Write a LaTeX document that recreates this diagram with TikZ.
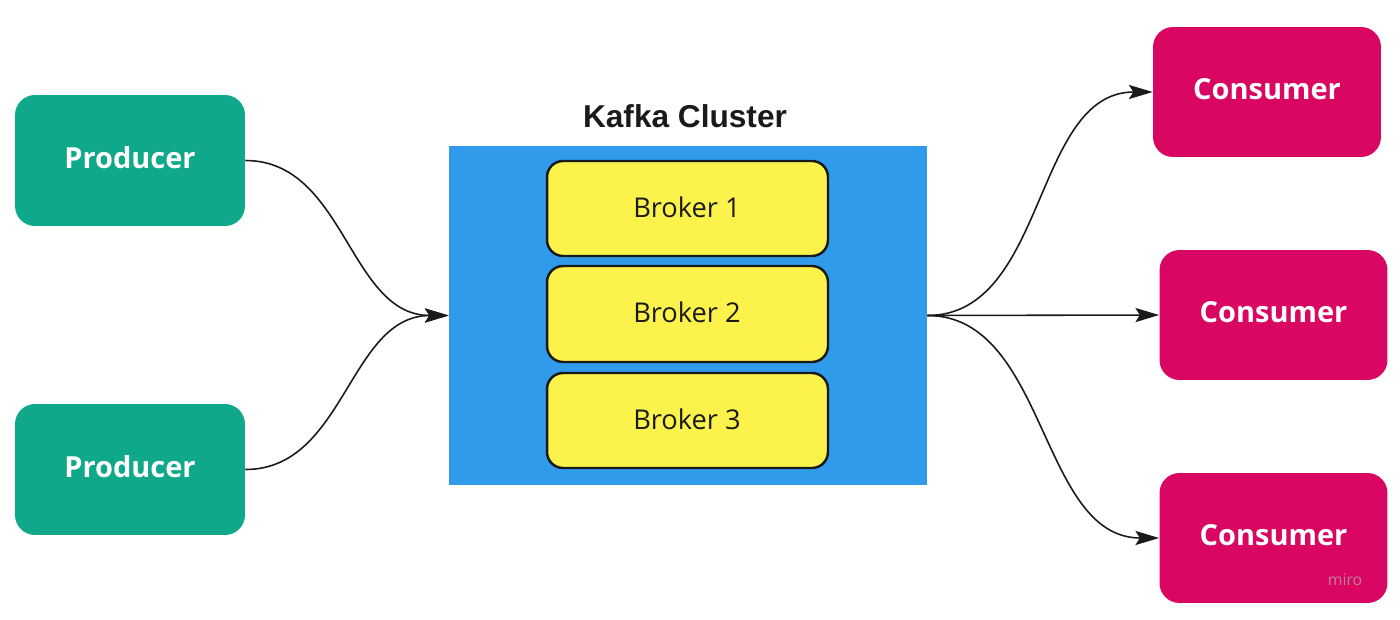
\documentclass[tikz,border=0pt]{standalone}
\usepackage{fontspec}
\setmainfont{Open Sans}
\newfontfamily\titlefont{Liberation Sans}
\usetikzlibrary{arrows.meta}
\definecolor{prodgreen}{HTML}{10A88A}
\definecolor{clusterblue}{HTML}{2F9BEA}
\definecolor{brokeryellow}{HTML}{FBF34B}
\definecolor{consmagenta}{HTML}{D90761}
\definecolor{darkline}{HTML}{1A1A1A}
\tikzset{
  producerbox/.style={draw=none, fill=prodgreen, rounded corners=0.4cm, minimum width=4.6cm, minimum height=2.62cm, inner sep=0pt, text=white, font=\fontsize{16.5}{18}\selectfont\bfseries},
  consumerbox/.style={draw=none, fill=consmagenta, rounded corners=0.4cm, minimum width=4.56cm, minimum height=2.6cm, inner sep=0pt, text=white, font=\fontsize{16.5}{18}\selectfont\bfseries},
  clusterbox/.style={draw=none, fill=clusterblue, minimum width=9.56cm, minimum height=6.78cm, inner sep=0pt},
  brokerbox/.style={draw=darkline, line width=1.4pt, fill=brokeryellow, rounded corners=0.32cm, minimum width=5.62cm, minimum height=1.9cm, inner sep=0pt, text=darkline, font=\fontsize{15.5}{18}\selectfont},
  boxlabel/.style={inner sep=0pt, anchor=center},
  flow/.style={draw=darkline, line width=0.9pt, -{Stealth[length=13.5pt,width=8pt,inset=2.5pt]}},
}
\begin{document}
\begin{tikzpicture}[x=0.02cm, y=-0.02cm]
\useasboundingbox (0,0) rectangle (1400,619);
\node[producerbox] (p1) at (130,160.5) {};
\node[producerbox] (p2) at (130,469.5) {};
\node[clusterbox] (cl) at (688,315.5) {};
\node[font=\titlefont\fontsize{18}{20}\selectfont\bfseries, text=darkline] (title) at (685,116) {Kafka Cluster};
\node[brokerbox] (b1) at (687.5,208.5) {};
\node[brokerbox, minimum height=1.92cm] (b2) at (687.5,314) {};
\node[brokerbox] (b3) at (687.5,420.5) {};
\node[consumerbox] (c1) at (1267,92) {};
\node[consumerbox] (c2) at (1273.5,315) {};
\node[consumerbox] (c3) at (1273.5,538) {};
\node[boxlabel, text=white, font=\fontsize{16.5}{18}\selectfont\bfseries] (p1t) at (130,158) {Producer};
\node[boxlabel, text=white, font=\fontsize{16.5}{18}\selectfont\bfseries] (p2t) at (130,467) {Producer};
\node[boxlabel, text=darkline, font=\fontsize{15.5}{18}\selectfont] (b1t) at (687,207) {Broker 1};
\node[boxlabel, text=darkline, font=\fontsize{15.5}{18}\selectfont] (b2t) at (687,312.5) {Broker 2};
\node[boxlabel, text=darkline, font=\fontsize{15.5}{18}\selectfont] (b3t) at (687,419) {Broker 3};
\node[boxlabel, text=white, font=\fontsize{16.5}{18}\selectfont\bfseries] (c1t) at (1267,89.5) {Consumer};
\node[boxlabel, text=white, font=\fontsize{16.5}{18}\selectfont\bfseries] (c2t) at (1273.5,312.5) {Consumer};
\node[boxlabel, text=white, font=\fontsize{16.5}{18}\selectfont\bfseries] (c3t) at (1273.5,535.5) {Consumer};
\node[text=gray!60, opacity=0.7, font=\fontsize{9}{10}\selectfont] (wm) at (1345,580) {miro};
\draw[flow] (p1.east) .. controls +(100,0) and +(-100,0) .. (cl.west);
\draw[flow] (p2.east) .. controls +(100,0) and +(-100,0) .. (cl.west);
\draw[flow] (cl.east) .. controls +(120,0) and +(-120,0) .. (c1.west);
\draw[flow] (cl.east) -- (c2.west);
\draw[flow] (cl.east) .. controls +(120,0) and +(-120,0) .. (c3.west);
\end{tikzpicture}
\end{document}
